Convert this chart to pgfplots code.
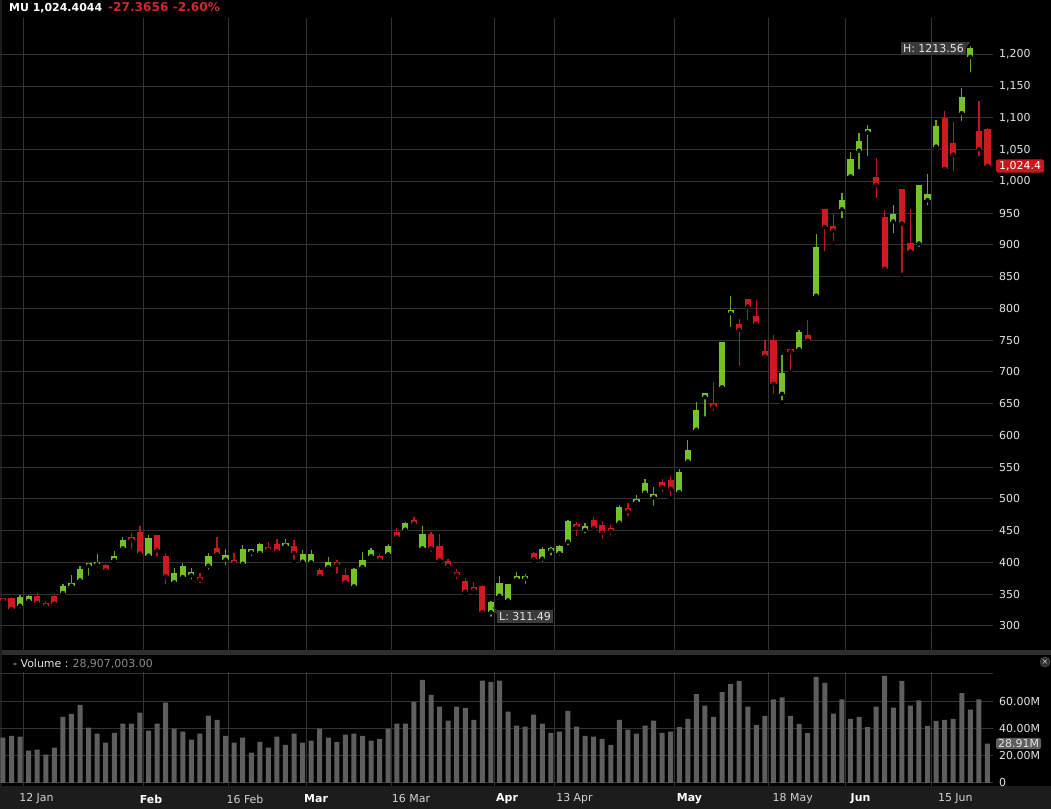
\documentclass[border=0pt]{standalone}
\usepackage{pgfplots}
\pgfplotsset{compat=1.18}
\usepackage{pgfplotstable}
\usetikzlibrary{calc}
\usepackage{fontspec}
\setmainfont{DejaVu Sans}
\definecolor{gbody}{HTML}{74C12B}
\definecolor{gwick}{HTML}{62A525}
\definecolor{rbody}{HTML}{CC1B20}
\definecolor{rwick}{HTML}{B8181D}
\definecolor{gridc}{HTML}{333333}
\definecolor{volc}{HTML}{5E5E5E}
\definecolor{stripc}{HTML}{1C1C1C}
\definecolor{sepc}{HTML}{2E2E2E}
\definecolor{tickc}{HTML}{E4E4E4}
\definecolor{dayc}{HTML}{D2D2D2}
\definecolor{boxc}{HTML}{3A3A3A}
\definecolor{redlbl}{HTML}{C8181E}
\definecolor{titlered}{HTML}{D0282E}
\definecolor{volnum}{HTML}{8A8A8A}

\pgfplotstableread{
i O H L C
2 332 349 324.7 345.6
3 339.4 349.3 338.3 346.7
7 352 366.6 351 363.5
8 363.5 381 360.3 364.5
9 371.9 395 365.6 389.7
10 395 397.6 376 396.5
11 397 413.9 389.7 400
13 403.9 417.6 399.2 410.8
14 422.3 440 416 436
17 410.8 443.3 408.7 438
20 368.8 391.3 365.6 382.9
21 377 399.2 372 395
22 379.8 392 369.8 384
24 395 415 385.5 410.8
26 404.5 421 392 411.8
28 398 428 393 421.2
29 416 422 406.5 419
30 415 430.7 414 429
33 426.5 437 422.3 429
35 401.3 419 399.2 413.4
36 400.3 419 396 412.9
38 392.9 408.7 386 401.3
41 362.5 390.8 356 389.7
42 392.9 416 391.3 403.4
43 409.7 423.4 404.5 419.2
45 412.9 429.7 411.8 426.5
47 451.7 464.3 444.4 462.2
49 422.3 458 420.2 444.4
57 321.5 340 311.49 338.3
58 347.6 378.5 342.3 367.5
59 340.2 366.7 338.2 366.5
60 373.3 385.3 370 378
61 374.7 382 363 377.8
63 406 425 396.7 421.9
64 418.8 425 408 422.9
65 414.5 427 407 426
66 432.9 467 424 466
68 451.3 461.8 442.9 457.6
72 462.9 491.2 457.6 487
74 495.4 507 488 497
75 510 531 509 524.8
76 502.7 518.5 486 504.8
79 511 546.5 509.3 543.2
80 559.2 593.4 557.7 577.7
81 609.2 653.5 605 640.7
82 660.3 666.6 626.7 666.6
84 676 747.5 675 747.5
85 792.6 820 767.4 795.8
91 665.6 727 652 699.2
93 735.9 766.4 731.7 763.2
95 820 917.6 820 896.6
98 956.2 982 938.8 970.9
99 1008 1046.9 1007.5 1035.3
100 1048.5 1076.9 1016 1064.3
101 1077.4 1089.5 1036.9 1079.5
104 937 962.3 915 948.6
107 902.4 994.9 894 994.9
108 970.7 1011.7 959.1 980.2
109 1055 1097 1050.8 1087.7
112 1107.6 1146.5 1091.9 1132.3
113 1196.3 1213.56 1168.4 1209.5
}\greentab

\pgfplotstableread{
i O H L C
0 342 343 339 340
1 344 345.6 320.5 326.7
4 346.7 352 334 336.2
5 335.7 340 326.7 332
6 346.7 348.3 334 335.2
12 396 398 383.4 387.6
15 439.6 446.5 417.6 435.4
16 447.5 457 406.5 413.9
18 442.8 443.5 406.5 419
19 410.8 414 362.5 378.2
23 377 383.4 364.5 373
25 422.3 440 410.8 412.9
27 401.8 414.9 393.9 399.2
31 422.8 432.8 415 420.2
32 429.7 437 410.8 417.6
34 425.5 435 401.3 415
37 387.6 390.8 373 378.2
39 399.2 404.5 379.3 396.6
40 380.3 391.8 366.7 368.8
44 410.8 414 396 404.5
46 447.5 455 437 440
48 466.4 471.6 458 461.2
50 444.4 448.6 413.9 422.3
51 426.5 445.4 399.2 403.4
52 402.9 405.5 387.6 395
53 383.4 389.7 370.3 380.8
54 370.9 375 349.9 354
55 360.9 368.8 353 356.2
56 363.5 364 317.3 321.5
62 415.6 415.8 397.7 405
67 457.6 463.9 437.6 455.5
69 467 471.3 450.2 453.9
70 458.6 465 434.5 447
71 451.3 458.6 439.8 449.2
73 482.8 494.3 470.2 480.7
77 526 532 508 518.5
78 530.3 536.6 501 516.2
83 650.4 684.5 635 645.6
86 775.8 783.2 705.5 766.4
87 814.7 815.7 777.9 803.1
88 788.4 813.6 775.8 775.8
89 733.3 750.6 717.5 724.4
90 750.6 758 662.4 681.3
92 735.9 736.5 699.2 732.2
94 758 782.1 745.4 749.6
96 956 956.4 886.5 928.4
97 930 949.3 903 922.5
102 1006.4 1036.4 970.7 994.9
103 944.4 955 862 862.4
105 987.5 987.5 853 933.9
106 903.9 957 882.4 889.8
110 1099.3 1111.3 1019.8 1019.8
111 1061 1094.4 1013 1042.4
114 1080.3 1126 1036.6 1050.8
115 1082.6 1083.7 1023 1024.4
}\redtab

\pgfplotstableread{
i v
0 33.2
1 34.6
2 33.9
3 23.7
4 24.4
5 20.7
6 25.9
7 48.5
8 50.7
9 57.3
10 40.5
11 36.1
12 29.5
13 36.8
14 43.4
15 43.4
16 51.5
17 38.3
18 43.4
19 58.8
20 39.8
21 37.6
22 31.7
23 36.1
24 49.3
25 46.3
26 34.6
27 29.5
28 33.2
29 22.2
30 30.2
31 25.9
32 33.9
33 28.0
34 36.1
35 29.5
36 31.0
37 39.8
38 33.2
39 30.2
40 35.4
41 36.1
42 34.6
43 31.0
44 32.4
45 39.8
46 43.4
47 43.4
48 59.5
49 75.6
50 64.6
51 55.9
52 45.6
53 55.9
54 55.1
55 46.3
56 74.9
57 74.1
58 74.9
59 52.2
60 42.0
61 41.2
62 50.0
63 43.4
64 36.8
65 37.6
66 52.9
67 41.2
68 34.6
69 33.9
70 32.4
71 28.0
72 46.3
73 39.0
74 36.1
75 42.0
76 45.6
77 36.8
78 37.6
79 41.0
80 47.0
81 65.0
82 56.75
83 48.5
84 66.5
85 72.5
86 74.75
87 56.0
88 42.5
89 49.25
90 61.25
91 62.75
92 49.25
93 43.25
94 36.5
95 77.75
96 73.25
97 50.75
98 61.25
99 47.0
100 48.5
101 41.0
102 56.0
103 78.5
104 55.25
105 74.75
106 56.75
107 60.5
108 41.75
109 45.5
110 46.25
111 47.0
112 65.75
113 53.75
114 61.25
115 28.91
}\voltab

\pgfplotsset{
  base/.style={
    scale only axis, width=993bp, clip=false,
    xmin=-0.35, xmax=115.65,
    axis line style={draw=none},
    major tick length=0pt,
    xmajorgrids, ymajorgrids,
    grid style={draw=gridc, line width=1bp},
    xtick={2.37,16.38,26.39,35.4,45.41,57.43,64.43,78.45,89.46,98.47,108.48},
    xticklabels={},
    yticklabel pos=right,
    ticklabel style={font=\fontsize{11}{13}\selectfont, text=tickc},
    yticklabel style={anchor=west, inner sep=0pt, xshift=6bp},
    scaled y ticks=false,
    /pgf/number format/1000 sep={,},
    /pgf/number format/assume math mode=true,
  },
}

\begin{document}
\begin{tikzpicture}[x=1bp,y=1bp]
\fill[black] (0,0) rectangle (1051,809);
\fill[stripc] (0,0) rectangle (1051,23);
\fill[sepc] (0,154) rectangle (1051,159);
\fill[stripc] (0,23) rectangle (2,809);
\coordinate (pricesw) at (0bp,159bp);
\coordinate (volsw) at (0bp,23bp);

% price panel
\begin{axis}[base,
  at={(pricesw)}, anchor=south west, height=632bp,
  ymin=262.2, ymax=1257.5,
  ytick={300,350,...,1200},
]
% wicks
\addplot[only marks, mark=none, forget plot,
  error bars/.cd, y dir=plus, y explicit, error mark=none,
  error bar style={draw=gwick, line width=1.3bp}]
  table[x=i, y=L, y error expr=\thisrow{H}-\thisrow{L}] {\greentab};
\addplot[only marks, mark=none, forget plot,
  error bars/.cd, y dir=plus, y explicit, error mark=none,
  error bar style={draw=rwick, line width=1.3bp}]
  table[x=i, y=L, y error expr=\thisrow{H}-\thisrow{L}] {\redtab};
% bodies
\addplot[only marks, mark=none, forget plot,
  error bars/.cd, y dir=plus, y explicit, error mark=none,
  error bar style={draw=gbody, line width=6.2bp}]
  table[x=i, y=O, y error expr={max(\thisrow{C}-\thisrow{O},4.5)}] {\greentab};
\addplot[only marks, mark=none, forget plot,
  error bars/.cd, y dir=plus, y explicit, error mark=none,
  error bar style={draw=rbody, line width=6.2bp}]
  table[x=i, y=C, y error expr={max(\thisrow{O}-\thisrow{C},4.5)}] {\redtab};

\node[fill=boxc, text=tickc, inner sep=2.5bp, anchor=east,
  font=\fontsize{11}{13}\selectfont] (hl) at (axis cs:112.55,1209) {H: 1213.56};
\node[fill=boxc, text=tickc, inner sep=2.5bp, anchor=west,
  font=\fontsize{11}{13}\selectfont] (ll) at (axis cs:57.65,315) {L: 311.49};
\node[fill=redlbl, text=white, rounded corners=2bp, inner ysep=2bp, inner xsep=3bp,
  anchor=west, xshift=3bp, font=\fontsize{11}{13}\selectfont]
  at (axis cs:115.65,1024.4) {1,024.4};
\end{axis}
\fill[boxc] (hl.north east) -- ++(3.5bp,0bp) -- ($(hl.north east)+(0bp,-6bp)$) -- cycle;
\fill[boxc] (ll.north west) -- ++(-4bp,3bp) -- ($(ll.north west)+(0bp,-5bp)$) -- cycle;

% volume panel
\begin{axis}[base,
  at={(volsw)}, anchor=south west, height=114bp,
  ymin=-2.2, ymax=81.3,
  ytick={0,20,40,60,80},
  yticklabels={0,20.00M,40.00M,60.00M,{}},
  extra x ticks={3.91,17.29,28.27,36.57,47.66,58.88,66.76,80.2,92.25,100.18,111.25},
  extra x tick labels={{\color{dayc}12 Jan},{\bfseries\color{white}Feb},{\color{dayc}16 Feb},{\bfseries\color{white}Mar},{\color{dayc}16 Mar},{\bfseries\color{white}Apr},{\color{dayc}13 Apr},{\bfseries\color{white}May},{\color{dayc}18 May},{\bfseries\color{white}Jun},{\color{dayc}15 Jun}},
  extra x tick style={grid=none, xticklabel style={anchor=center, yshift=-13bp}},
]
\addplot[ybar, bar width=5bp, fill=volc, draw=none, forget plot]
  table[x=i, y=v] {\voltab};
\node[fill=volc, text=tickc, inner ysep=1.5bp, inner xsep=2bp, rounded corners=1.5bp,
  anchor=west, xshift=3bp, font=\fontsize{11}{13}\selectfont]
  at (axis cs:115.65,28.91) {28.91M};
\end{axis}

% header texts
\node[anchor=west, inner sep=0pt, font=\fontsize{11}{13}\selectfont] at (9,801)
  {\bfseries\color{white}MU 1,024.4044\hspace{6bp}\fontsize{12.2}{13}\selectfont\color{titlered}-27.3656 -2.60\%};
\node[anchor=west, inner sep=0pt, font=\fontsize{11}{13}\selectfont] at (13,145.5)
  {\color{tickc}- Volume :\hspace{4bp}\color{volnum}28,907,003.00};
\node[circle, fill=sepc, draw=volc, inner sep=0pt, minimum size=10bp, text=dayc,
  font=\fontsize{8}{8}\selectfont] at (1045,147) {×};

\pgfresetboundingbox
\path[use as bounding box] (0,0) rectangle (1051,809);
\end{tikzpicture}
\end{document}
